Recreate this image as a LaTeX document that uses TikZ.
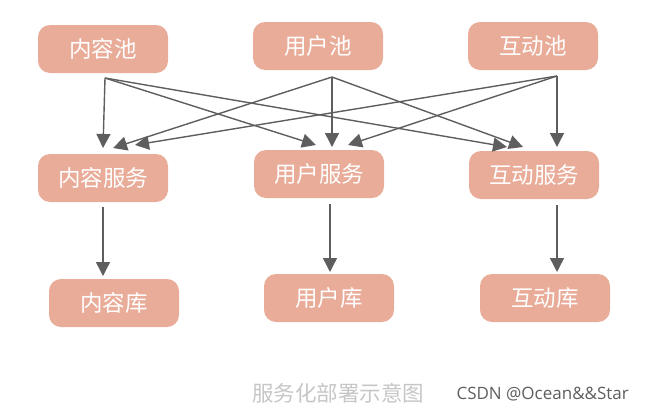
\documentclass[tikz,border=0pt]{standalone}
\usepackage{fontspec}
\setmainfont{Open Sans}
\newfontfamily\cjk{Noto Sans CJK SC}
\usetikzlibrary{arrows.meta}
\definecolor{boxfill}{HTML}{E9AC99}
\definecolor{arrowgray}{HTML}{5E5E5E}

\begin{document}
\begin{tikzpicture}[x=1pt, y=-1pt,
  box/.style={fill=boxfill, rounded corners=12pt, minimum width=130pt, minimum height=48pt, inner sep=0pt, text=white, font=\cjk\fontsize{22.5}{26}\selectfont},
  link/.style={draw=arrowgray, line width=1.4pt, -{Triangle[width=14pt,length=14pt]}}]
\useasboundingbox (0,0) rectangle (647,418);
% pools
\node[box] (cp) at (103,49) {内容池};
\node[box] (up) at (318,46) {用户池};
\node[box] (ip) at (533,46) {互动池};
% services
\node[box] (cs) at (103,178) {内容服务};
\node[box] (us) at (319,174) {用户服务};
\node[box] (is) at (534,175) {互动服务};
% stores
\node[box] (cd) at (114,303) {内容库};
\node[box] (ud) at (329,298) {用户库};
\node[box] (id) at (545,298) {互动库};
% where the links start and end
\coordinate (cp-o) at (105,78);
\coordinate (up-o) at (332,77);
\coordinate (ip-o) at (557,76);
\coordinate (cs-a) at (103,148); \coordinate (cs-b) at (113,148); \coordinate (cs-c) at (135,145);
\coordinate (us-a) at (316,145); \coordinate (us-b) at (332,147); \coordinate (us-c) at (348,145);
\coordinate (is-a) at (507,147); \coordinate (is-b) at (523,147); \coordinate (is-c) at (557,147);
\coordinate (cs-o) at (103,207); \coordinate (cd-i) at (103,276);
\coordinate (us-o) at (330,204); \coordinate (ud-i) at (330,272);
\coordinate (is-o) at (557,205); \coordinate (id-i) at (557,272);
\foreach \s/\t in {cp-o/cs-a, cp-o/us-a, cp-o/is-a, up-o/cs-b, up-o/us-b, up-o/is-b, ip-o/cs-c, ip-o/us-c, ip-o/is-c, cs-o/cd-i, us-o/ud-i, is-o/id-i}{
\draw[link] (\s) -- (\t);
}
\node[text=gray!45, font=\cjk\fontsize{21.5}{24}\selectfont] (cap) at (338,393) {服务化部署示意图};
\node[text=arrowgray, font=\fontsize{17}{20}\selectfont, anchor=west] (mark) at (453,394) {CSDN @Ocean\&\&Star};
\end{tikzpicture}
\end{document}
